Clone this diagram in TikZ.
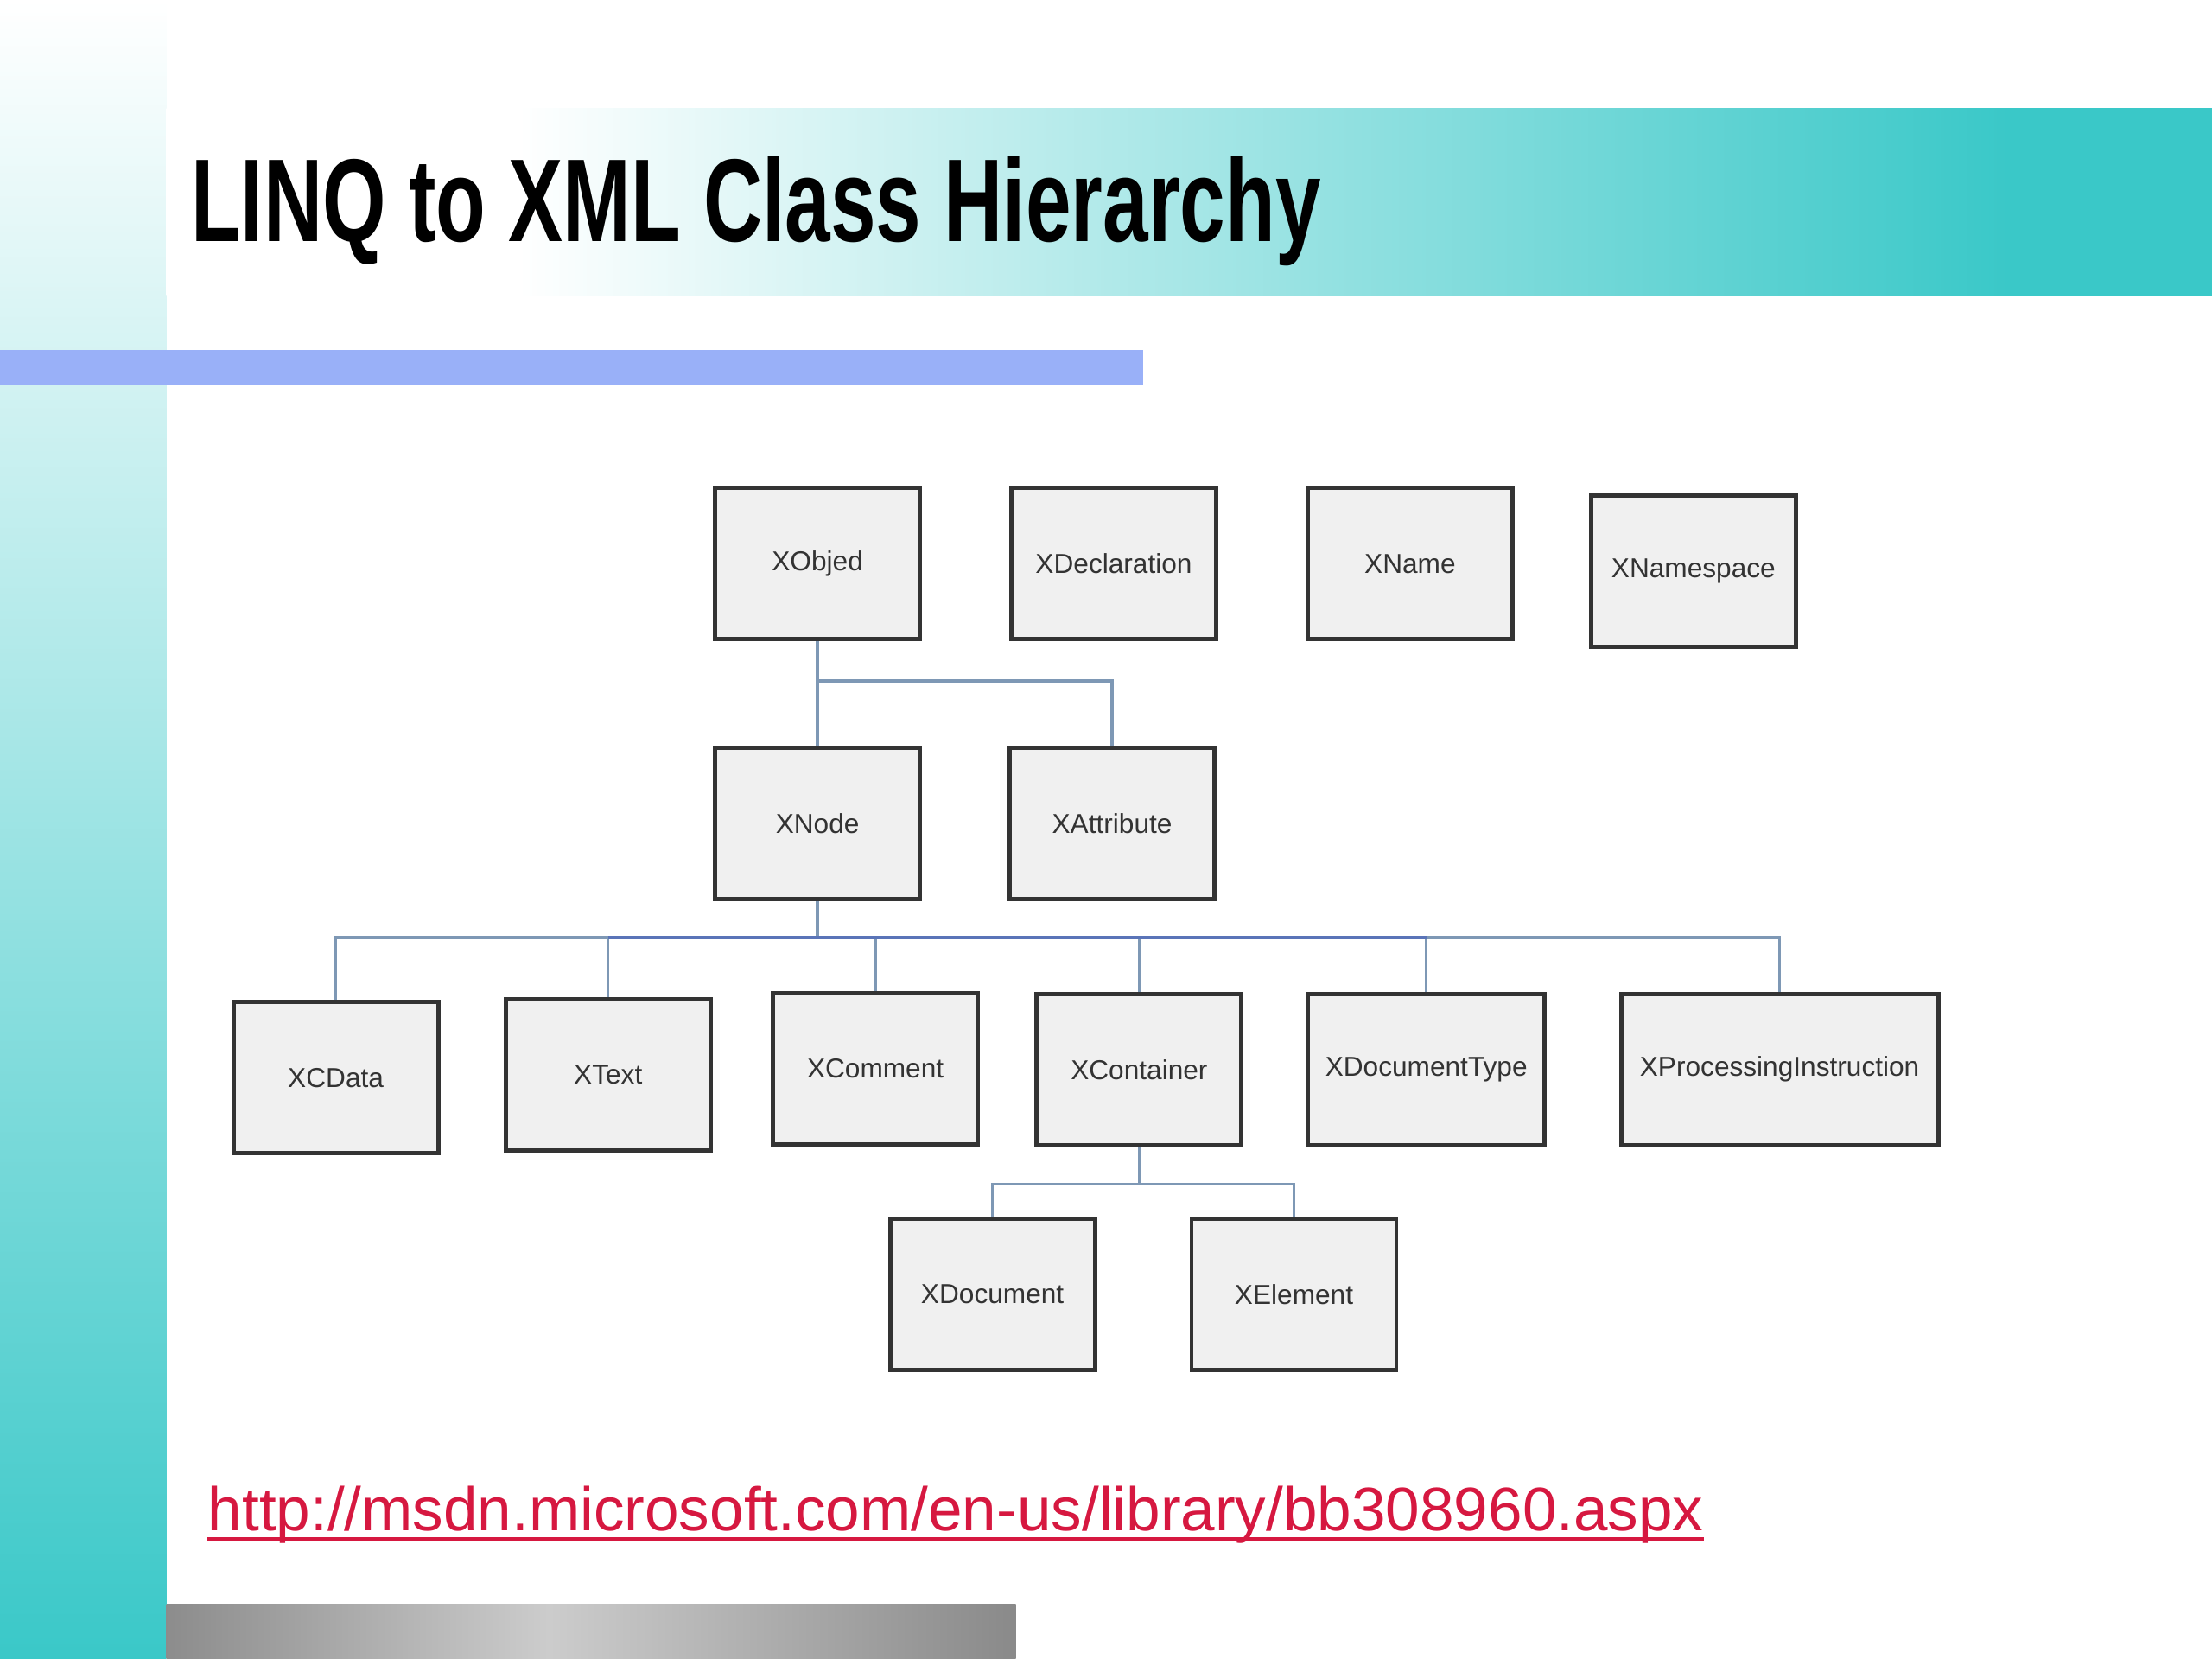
\documentclass[tikz,border=0pt]{standalone}
\usepackage{fontspec}
\setmainfont{Liberation Sans}
\usepackage{tikz}
\usetikzlibrary{arrows,positioning}
\definecolor{slideteal}{RGB}{58,200,200}
\definecolor{barblue}{RGB}{153,176,248}
\definecolor{linkblue}{RGB}{126,152,181}
\definecolor{busblue}{RGB}{90,116,184}
\definecolor{urlred}{RGB}{214,24,64}
\pgfdeclarehorizontalshading{bannershade}{100bp}{color(0bp)=(white); color(33.6bp)=(white); color(70bp)=(slideteal); color(100bp)=(slideteal)}
\tikzstyle{cls}=[draw=black!80, line width=1.4pt, fill=black!6, text=black!80, minimum width=2.37cm, minimum height=1.75cm, inner sep=2pt, font=\fontsize{9}{10}\selectfont]
\tikzstyle{link}=[draw=linkblue, line width=1pt]
\tikzstyle{bus}=[draw=busblue, line width=1.1pt]

\begin{document}
\begin{tikzpicture}[auto,align=center]

                    \useasboundingbox (0,0) rectangle (25.6,19.2);
                    \fill[white] (0,0) rectangle (25.6,19.2);
                    % slide decoration
                    \shade[top color=white, bottom color=slideteal] (0,0) rectangle (1.927,19.2);
                    \shade[shading=bannershade] (1.927,15.788) rectangle (25.6,17.943);
                    \fill[barblue] (0,14.743) rectangle (13.225,15.151);
                    \shade[left color=black!45, right color=black!20] (1.927,0) rectangle (6.35,0.636);
                    \shade[left color=black!20, right color=black!46] (6.35,0) rectangle (11.755,0.636);

                    \node (title) [anchor=base west, inner sep=0] at (2.204,16.40) {\scalebox{0.693}[1]{\fontsize{38.8}{40}\selectfont\bfseries LINQ to XML Class Hierarchy}};

                    \node [cls] (xobj) at (9.461,12.677) {XObjed};
                    \node [cls] (xdecl) [right=1.01cm of xobj] {XDeclaration};
                    \node [cls] (xname) [right=1.01cm of xdecl] {XName};
                    \node [cls] (xns) [right=0.86cm of xname, yshift=-0.09cm] {XNamespace};

                    \node [cls] (xnode) [below=1.21cm of xobj] {XNode};
                    \node [cls] (xattr) [right=0.99cm of xnode] {XAttribute};

                    \node [cls] (xcdata) at (3.886,6.726) {XCData};
                    \node [cls] (xtext) at (7.037,6.759) {XText};
                    \node [cls] (xcomm) at (10.131,6.832) {XComment};
                    \node [cls] (xcont) at (13.184,6.816) {XContainer};
                    \node [cls, minimum width=2.74cm] (xdoctype) at (16.507,6.824) {XDocumentType};
                    \node [cls, minimum width=3.67cm] (xpi) at (20.596,6.824) {XProcessingInstruction};

                    \node [cls] (xdoc) at (11.486,4.220) {XDocument};
                    \node [cls] (xelem) [right=1.07cm of xdoc] {XElement};

                    \node (url) [anchor=base west, inner sep=0, text=urlred, font=\fontsize{20.23}{24}\selectfont] at (2.40,1.485) {http://msdn.microsoft.com/en-us/library/bb308960.aspx};
                    \draw [urlred, line width=1.3pt] ([yshift=-0.1cm]url.base west) -- ([yshift=-0.1cm]url.base east);

                    % hierarchy lines
                    \path (xobj.south) ++(0,-0.46) coordinate (j1);
                    \path (xnode.south) ++(0,-0.42) coordinate (j2);
                    \path (xcont.south) ++(0,-0.42) coordinate (j3);
                    \draw [link] (xobj.south) -- (xobj.south |- xnode.north);
                    \draw [link] (j1) -| (xattr.north);
                    \draw [link] (xnode.south) -- (j2);
                    \foreach \c in {xcdata,xtext,xcomm,xcont,xdoctype,xpi}
                        \draw [link] (j2) -| (\c.north);
                    \draw [bus] (xtext.north |- j2) -- (xdoctype.north |- j2);
                    \draw [link] (xcont.south) -- (j3);
                    \foreach \c in {xdoc,xelem}
                        \draw [link] (j3) -| (\c.north);
                \end{tikzpicture}
\end{document}
